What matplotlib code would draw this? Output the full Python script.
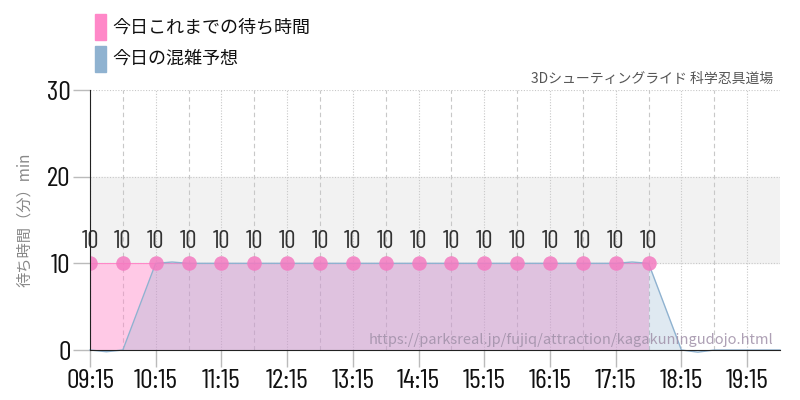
import matplotlib
matplotlib.use('Agg')
import matplotlib.pyplot as plt
from matplotlib.patches import Rectangle

plt.rcParams['font.family'] = ['Noto Sans CJK JP', 'DejaVu Sans']

# today's waiting times (hours as decimal, minutes)
wait_times = [9.25, 9.75, 10.25, 10.75, 11.25, 11.75, 12.25, 12.75, 13.25,
              13.75, 14.25, 14.75, 15.25, 15.75, 16.25, 16.75, 17.25, 17.75]
wait_vals = [10, 10, 10, 10, 10, 10, 10, 10, 10,
             10, 10, 10, 10, 10, 10, 10, 10, 10]

# forecast (every 15 min)
fc_times = [9.25, 9.5, 9.75, 10.0, 10.25, 10.5, 10.75, 11.0, 11.25, 11.5,
            11.75, 12.0, 12.25, 12.5, 12.75, 13.0, 13.25, 13.5, 13.75, 14.0,
            14.25, 14.5, 14.75, 15.0, 15.25, 15.5, 15.75, 16.0, 16.25, 16.5,
            16.75, 17.0, 17.25, 17.5, 17.75, 18.0, 18.25, 18.5, 18.75, 19.0,
            19.25, 19.5, 19.75]
fc_vals = [0, -0.2, 0, 5, 10, 10.15, 10, 10, 10, 10,
           10, 10, 10, 10, 10, 10, 10, 10, 10, 10,
           10, 10, 10, 10, 10, 10, 10, 10, 10, 10,
           10, 10, 10, 10.15, 10, 5, 0, -0.25, 0, 0,
           0, 0, 0]

xticks = [9.25, 10.25, 11.25, 12.25, 13.25, 14.25, 15.25, 16.25, 17.25, 18.25, 19.25]
xlabels = ['09:15', '10:15', '11:15', '12:15', '13:15', '14:15', '15:15',
           '16:15', '17:15', '18:15', '19:15']
minor_x = [9.75, 10.75, 11.75, 12.75, 13.75, 14.75, 15.75, 16.75, 17.75, 18.75]
yticks = [0, 10, 20, 30]

pink = '#ff88c8'
blue = '#8fb2d0'
num_font = ['Barlow Condensed', 'DejaVu Sans']

fig = plt.figure(figsize=(8, 4), dpi=100)
ax = fig.add_axes([0.1125, 0.125, 0.8625, 0.65])

ax.axhspan(10, 20, color='#f2f2f2', zorder=0)
for y in yticks[1:]:
    ax.axhline(y, color='#c8c8c8', lw=0.8, ls=(0, (1, 1.5)), zorder=1)
for x in xticks:
    ax.axvline(x, color='#c8c8c8', lw=0.8, ls=(0, (1, 1.5)), zorder=1)
for x in minor_x:
    ax.axvline(x, color='#c8c8c8', lw=0.8, ls=(0, (4, 3)), zorder=1)

ax.fill_between(wait_times, wait_vals, 0, color=pink, alpha=0.45, lw=0, zorder=2)
ax.plot(wait_times, wait_vals, color=pink, lw=0.8, zorder=3)
ax.fill_between(fc_times, fc_vals, 0, color=blue, alpha=0.28, lw=0, zorder=3)
ax.plot(fc_times, fc_vals, color=blue, lw=1, zorder=4, clip_on=False)
ax.scatter(wait_times, wait_vals, s=110, color='#f47ac0', alpha=0.85, lw=0, zorder=5)

for t, v in zip(wait_times, wait_vals):
    ax.text(t, v + 1.2, str(v), ha='center', va='bottom', fontsize=18,
            color='#333333', family=num_font, zorder=6)

ax.set_xlim(9.25, 19.75)
ax.set_ylim(0, 30)
ax.set_xticks(xticks)
ax.set_xticklabels(xlabels, family=num_font, fontsize=20, color='#111111')
ax.set_yticks(yticks)
ax.set_yticklabels([str(y) for y in yticks], family=num_font, fontsize=20,
                   color='#111111')
ax.tick_params(axis='both', color='#bbbbbb', length=12, width=1, pad=2)
for s in ['top', 'right']:
    ax.spines[s].set_visible(False)
ax.spines['left'].set_color('#222222')
ax.spines['bottom'].set_color('#222222')
ax.spines['left'].set_zorder(7)
ax.spines['bottom'].set_zorder(7)

ax.set_ylabel('待ち時間（分）min', color='#888888', fontsize=11, labelpad=10)

ax.text(0.99, 1.015, '3Dシューティングライド 科学忍具道場', transform=ax.transAxes,
        ha='right', va='bottom', fontsize=10, color='#555555')
ax.text(0.99, 0.04, 'https://parksreal.jp/fujiq/attraction/kagakuningudojo.html',
        transform=ax.transAxes, ha='right', va='center', fontsize=10.5,
        color='#a090a8', alpha=0.85, zorder=8)

# legend
fig.patches.append(Rectangle((95 / 800, 1 - 40 / 400), 11 / 800, 26 / 400,
                             transform=fig.transFigure, color=pink))
fig.patches.append(Rectangle((95 / 800, 1 - 72 / 400), 11 / 800, 26 / 400,
                             transform=fig.transFigure, color=blue))
fig.text(112 / 800, 1 - 27 / 400, '今日これまでの待ち時間', fontsize=13, va='center', color='#111111')
fig.text(112 / 800, 1 - 59 / 400, '今日の混雑予想', fontsize=13, va='center', color='#111111')

fig.savefig('out.png', dpi=100)
